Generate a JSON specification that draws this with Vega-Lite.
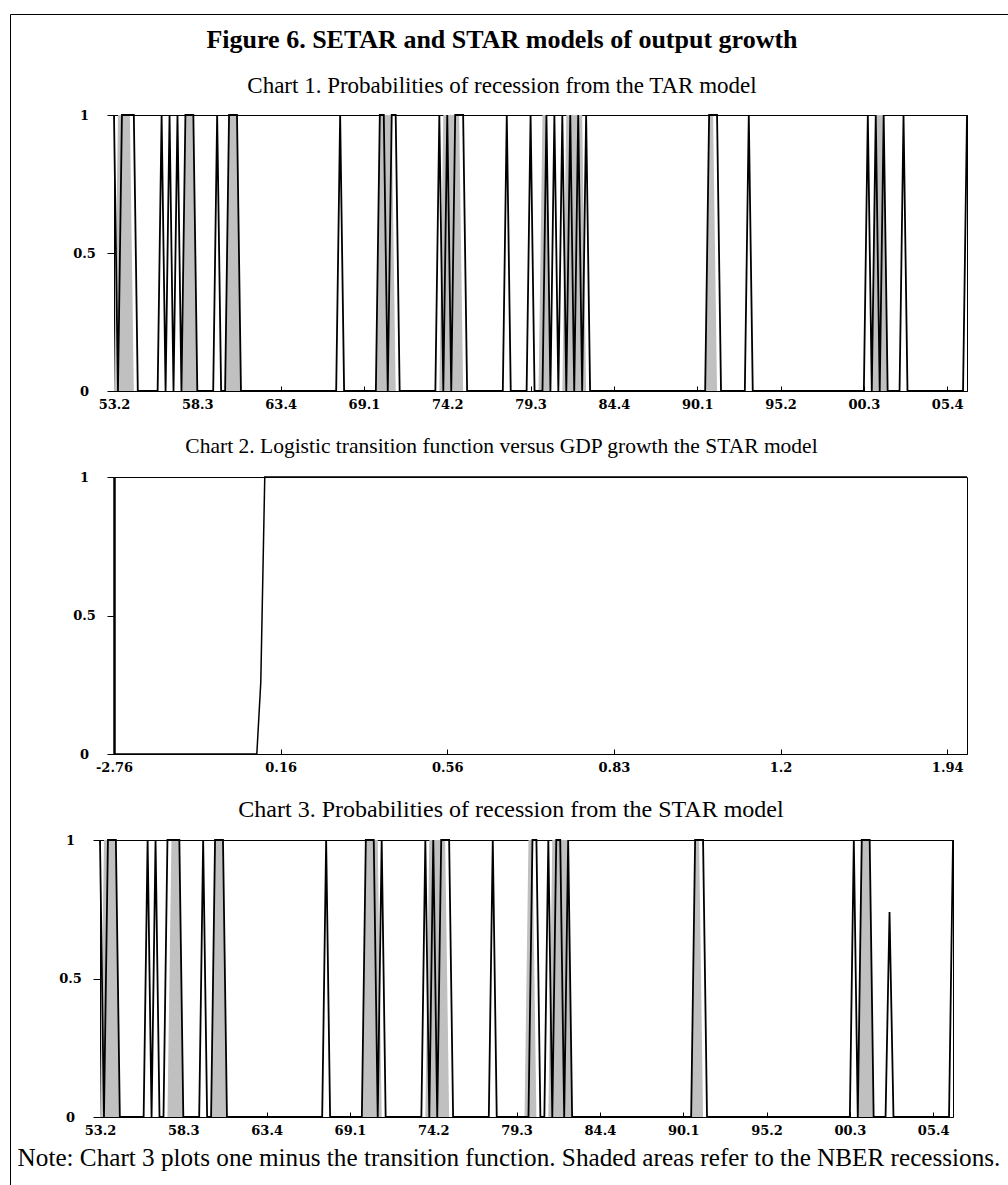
{
"$schema": "https://vega.github.io/schema/vega-lite/v6.json",
"background": "white",
"padding": {"left": 9, "top": 13, "right": 0, "bottom": 0},
"autosize": {"type": "pad"},
"config": {
  "view": {"stroke": "black", "strokeWidth": 1},
  "font": "Liberation Serif",
  "axis": {"grid": false, "domainColor": "black", "tickColor": "black", "labelColor": "black", "labelFont": "DejaVu Serif", "labelFontWeight": "bold", "labelFontSize": 13, "titleColor": "black"},
  "title": {"color": "black", "font": "Liberation Serif", "fontWeight": "normal", "fontSize": 21, "subtitleColor": "black"}
},
"datasets": {
"quarters": [
{"t":0,"tar":1,"star":1,"nber":0},{"t":1,"tar":0,"star":0,"nber":1},{"t":2,"tar":1,"star":1,"nber":1},{"t":3,"tar":1,"star":1,"nber":1},{"t":4,"tar":1,"star":1,"nber":1},{"t":5,"tar":1,"star":0,"nber":0},{"t":6,"tar":0,"star":0,"nber":0},{"t":7,"tar":0,"star":0,"nber":0},{"t":8,"tar":0,"star":0,"nber":0},{"t":9,"tar":0,"star":0,"nber":0},
{"t":10,"tar":0,"star":0,"nber":0},{"t":11,"tar":0,"star":0,"nber":0},{"t":12,"tar":1,"star":1,"nber":0},{"t":13,"tar":0,"star":0,"nber":0},{"t":14,"tar":1,"star":1,"nber":0},{"t":15,"tar":0,"star":0,"nber":0},{"t":16,"tar":1,"star":0,"nber":0},{"t":17,"tar":0,"star":1,"nber":0},{"t":18,"tar":1,"star":1,"nber":1},{"t":19,"tar":1,"star":1,"nber":1},
{"t":20,"tar":1,"star":1,"nber":1},{"t":21,"tar":0,"star":0,"nber":0},{"t":22,"tar":0,"star":0,"nber":0},{"t":23,"tar":0,"star":0,"nber":0},{"t":24,"tar":0,"star":0,"nber":0},{"t":25,"tar":0,"star":0,"nber":0},{"t":26,"tar":1,"star":1,"nber":0},{"t":27,"tar":0,"star":0,"nber":0},{"t":28,"tar":0,"star":0,"nber":0},{"t":29,"tar":1,"star":1,"nber":1},
{"t":30,"tar":1,"star":1,"nber":1},{"t":31,"tar":1,"star":1,"nber":1},{"t":32,"tar":0,"star":0,"nber":0},{"t":33,"tar":0,"star":0,"nber":0},{"t":34,"tar":0,"star":0,"nber":0},{"t":35,"tar":0,"star":0,"nber":0},{"t":36,"tar":0,"star":0,"nber":0},{"t":37,"tar":0,"star":0,"nber":0},{"t":38,"tar":0,"star":0,"nber":0},{"t":39,"tar":0,"star":0,"nber":0},
{"t":40,"tar":0,"star":0,"nber":0},{"t":41,"tar":0,"star":0,"nber":0},{"t":42,"tar":0,"star":0,"nber":0},{"t":43,"tar":0,"star":0,"nber":0},{"t":44,"tar":0,"star":0,"nber":0},{"t":45,"tar":0,"star":0,"nber":0},{"t":46,"tar":0,"star":0,"nber":0},{"t":47,"tar":0,"star":0,"nber":0},{"t":48,"tar":0,"star":0,"nber":0},{"t":49,"tar":0,"star":0,"nber":0},
{"t":50,"tar":0,"star":0,"nber":0},{"t":51,"tar":0,"star":0,"nber":0},{"t":52,"tar":0,"star":0,"nber":0},{"t":53,"tar":0,"star":0,"nber":0},{"t":54,"tar":0,"star":0,"nber":0},{"t":55,"tar":0,"star":0,"nber":0},{"t":56,"tar":0,"star":0,"nber":0},{"t":57,"tar":1,"star":1,"nber":0},{"t":58,"tar":0,"star":0,"nber":0},{"t":59,"tar":0,"star":0,"nber":0},
{"t":60,"tar":0,"star":0,"nber":0},{"t":61,"tar":0,"star":0,"nber":0},{"t":62,"tar":0,"star":0,"nber":0},{"t":63,"tar":0,"star":0,"nber":0},{"t":64,"tar":0,"star":0,"nber":0},{"t":65,"tar":0,"star":0,"nber":0},{"t":66,"tar":0,"star":0,"nber":0},{"t":67,"tar":1,"star":1,"nber":1},{"t":68,"tar":1,"star":1,"nber":1},{"t":69,"tar":0,"star":1,"nber":1},
{"t":70,"tar":1,"star":0,"nber":1},{"t":71,"tar":1,"star":1,"nber":0},{"t":72,"tar":0,"star":0,"nber":0},{"t":73,"tar":0,"star":0,"nber":0},{"t":74,"tar":0,"star":0,"nber":0},{"t":75,"tar":0,"star":0,"nber":0},{"t":76,"tar":0,"star":0,"nber":0},{"t":77,"tar":0,"star":0,"nber":0},{"t":78,"tar":0,"star":0,"nber":0},{"t":79,"tar":0,"star":0,"nber":0},
{"t":80,"tar":0,"star":0,"nber":0},{"t":81,"tar":0,"star":0,"nber":0},{"t":82,"tar":1,"star":1,"nber":0},{"t":83,"tar":0,"star":0,"nber":1},{"t":84,"tar":1,"star":1,"nber":1},{"t":85,"tar":0,"star":0,"nber":1},{"t":86,"tar":1,"star":1,"nber":1},{"t":87,"tar":1,"star":1,"nber":1},{"t":88,"tar":1,"star":1,"nber":0},{"t":89,"tar":0,"star":0,"nber":0},
{"t":90,"tar":0,"star":0,"nber":0},{"t":91,"tar":0,"star":0,"nber":0},{"t":92,"tar":0,"star":0,"nber":0},{"t":93,"tar":0,"star":0,"nber":0},{"t":94,"tar":0,"star":0,"nber":0},{"t":95,"tar":0,"star":0,"nber":0},{"t":96,"tar":0,"star":0,"nber":0},{"t":97,"tar":0,"star":0,"nber":0},{"t":98,"tar":0,"star":0,"nber":0},{"t":99,"tar":1,"star":1,"nber":0},
{"t":100,"tar":0,"star":0,"nber":0},{"t":101,"tar":0,"star":0,"nber":0},{"t":102,"tar":0,"star":0,"nber":0},{"t":103,"tar":0,"star":0,"nber":0},{"t":104,"tar":0,"star":0,"nber":0},{"t":105,"tar":1,"star":0,"nber":0},{"t":106,"tar":0,"star":0,"nber":0},{"t":107,"tar":0,"star":0,"nber":0},{"t":108,"tar":0,"star":0,"nber":1},{"t":109,"tar":1,"star":1,"nber":1},
{"t":110,"tar":0,"star":1,"nber":0},{"t":111,"tar":1,"star":0,"nber":0},{"t":112,"tar":0,"star":0,"nber":0},{"t":113,"tar":1,"star":1,"nber":0},{"t":114,"tar":0,"star":0,"nber":1},{"t":115,"tar":1,"star":1,"nber":1},{"t":116,"tar":0,"star":1,"nber":1},{"t":117,"tar":1,"star":0,"nber":1},{"t":118,"tar":0,"star":1,"nber":1},{"t":119,"tar":1,"star":0,"nber":0},
{"t":120,"tar":0,"star":0,"nber":0},{"t":121,"tar":0,"star":0,"nber":0},{"t":122,"tar":0,"star":0,"nber":0},{"t":123,"tar":0,"star":0,"nber":0},{"t":124,"tar":0,"star":0,"nber":0},{"t":125,"tar":0,"star":0,"nber":0},{"t":126,"tar":0,"star":0,"nber":0},{"t":127,"tar":0,"star":0,"nber":0},{"t":128,"tar":0,"star":0,"nber":0},{"t":129,"tar":0,"star":0,"nber":0},
{"t":130,"tar":0,"star":0,"nber":0},{"t":131,"tar":0,"star":0,"nber":0},{"t":132,"tar":0,"star":0,"nber":0},{"t":133,"tar":0,"star":0,"nber":0},{"t":134,"tar":0,"star":0,"nber":0},{"t":135,"tar":0,"star":0,"nber":0},{"t":136,"tar":0,"star":0,"nber":0},{"t":137,"tar":0,"star":0,"nber":0},{"t":138,"tar":0,"star":0,"nber":0},{"t":139,"tar":0,"star":0,"nber":0},
{"t":140,"tar":0,"star":0,"nber":0},{"t":141,"tar":0,"star":0,"nber":0},{"t":142,"tar":0,"star":0,"nber":0},{"t":143,"tar":0,"star":0,"nber":0},{"t":144,"tar":0,"star":0,"nber":0},{"t":145,"tar":0,"star":0,"nber":0},{"t":146,"tar":0,"star":0,"nber":0},{"t":147,"tar":0,"star":0,"nber":0},{"t":148,"tar":0,"star":0,"nber":0},{"t":149,"tar":0,"star":0,"nber":0},
{"t":150,"tar":1,"star":1,"nber":1},{"t":151,"tar":1,"star":1,"nber":1},{"t":152,"tar":1,"star":1,"nber":0},{"t":153,"tar":0,"star":0,"nber":0},{"t":154,"tar":0,"star":0,"nber":0},{"t":155,"tar":0,"star":0,"nber":0},{"t":156,"tar":0,"star":0,"nber":0},{"t":157,"tar":0,"star":0,"nber":0},{"t":158,"tar":0,"star":0,"nber":0},{"t":159,"tar":0,"star":0,"nber":0},
{"t":160,"tar":1,"star":0,"nber":0},{"t":161,"tar":0,"star":0,"nber":0},{"t":162,"tar":0,"star":0,"nber":0},{"t":163,"tar":0,"star":0,"nber":0},{"t":164,"tar":0,"star":0,"nber":0},{"t":165,"tar":0,"star":0,"nber":0},{"t":166,"tar":0,"star":0,"nber":0},{"t":167,"tar":0,"star":0,"nber":0},{"t":168,"tar":0,"star":0,"nber":0},{"t":169,"tar":0,"star":0,"nber":0},
{"t":170,"tar":0,"star":0,"nber":0},{"t":171,"tar":0,"star":0,"nber":0},{"t":172,"tar":0,"star":0,"nber":0},{"t":173,"tar":0,"star":0,"nber":0},{"t":174,"tar":0,"star":0,"nber":0},{"t":175,"tar":0,"star":0,"nber":0},{"t":176,"tar":0,"star":0,"nber":0},{"t":177,"tar":0,"star":0,"nber":0},{"t":178,"tar":0,"star":0,"nber":0},{"t":179,"tar":0,"star":0,"nber":0},
{"t":180,"tar":0,"star":0,"nber":0},{"t":181,"tar":0,"star":0,"nber":0},{"t":182,"tar":0,"star":0,"nber":0},{"t":183,"tar":0,"star":0,"nber":0},{"t":184,"tar":0,"star":0,"nber":0},{"t":185,"tar":0,"star":0,"nber":0},{"t":186,"tar":0,"star":0,"nber":0},{"t":187,"tar":0,"star":0,"nber":0},{"t":188,"tar":0,"star":0,"nber":0},{"t":189,"tar":0,"star":0,"nber":0},
{"t":190,"tar":1,"star":1,"nber":0},{"t":191,"tar":0,"star":0,"nber":0},{"t":192,"tar":1,"star":1,"nber":1},{"t":193,"tar":0,"star":1,"nber":1},{"t":194,"tar":1,"star":1,"nber":1},{"t":195,"tar":0,"star":0,"nber":0},{"t":196,"tar":0,"star":0,"nber":0},{"t":197,"tar":0,"star":0,"nber":0},{"t":198,"tar":0,"star":0,"nber":0},{"t":199,"tar":1,"star":0.74,"nber":0},
{"t":200,"tar":0,"star":0,"nber":0},{"t":201,"tar":0,"star":0,"nber":0},{"t":202,"tar":0,"star":0,"nber":0},{"t":203,"tar":0,"star":0,"nber":0},{"t":204,"tar":0,"star":0,"nber":0},{"t":205,"tar":0,"star":0,"nber":0},{"t":206,"tar":0,"star":0,"nber":0},{"t":207,"tar":0,"star":0,"nber":0},{"t":208,"tar":0,"star":0,"nber":0},{"t":209,"tar":0,"star":0,"nber":0},
{"t":210,"tar":0,"star":0,"nber":0},{"t":211,"tar":0,"star":0,"nber":0},{"t":212,"tar":0,"star":0,"nber":0},{"t":213,"tar":0,"star":0,"nber":0},{"t":214,"tar":0,"star":0,"nber":0},{"t":215,"tar":1,"star":1,"nber":0}
],
"logistic": [
{"i":0,"g":0},{"i":1,"g":0},{"i":2,"g":0},{"i":3,"g":0},{"i":4,"g":0},{"i":5,"g":0},{"i":6,"g":0},{"i":7,"g":0},{"i":8,"g":0},{"i":9,"g":0},
{"i":10,"g":0},{"i":11,"g":0},{"i":12,"g":0},{"i":13,"g":0},{"i":14,"g":0},{"i":15,"g":0},{"i":16,"g":0},{"i":17,"g":0},{"i":18,"g":0},{"i":19,"g":0},
{"i":20,"g":0},{"i":21,"g":0},{"i":22,"g":0},{"i":23,"g":0},{"i":24,"g":0},{"i":25,"g":0},{"i":26,"g":0},{"i":27,"g":0},{"i":28,"g":0},{"i":29,"g":0},
{"i":30,"g":0},{"i":31,"g":0},{"i":32,"g":0},{"i":33,"g":0},{"i":34,"g":0},{"i":35,"g":0},{"i":36,"g":0},{"i":37,"g":0.26},{"i":38,"g":1},{"i":39,"g":1},
{"i":40,"g":1},{"i":41,"g":1},{"i":42,"g":1},{"i":43,"g":1},{"i":44,"g":1},{"i":45,"g":1},{"i":46,"g":1},{"i":47,"g":1},{"i":48,"g":1},{"i":49,"g":1},
{"i":50,"g":1},{"i":51,"g":1},{"i":52,"g":1},{"i":53,"g":1},{"i":54,"g":1},{"i":55,"g":1},{"i":56,"g":1},{"i":57,"g":1},{"i":58,"g":1},{"i":59,"g":1},
{"i":60,"g":1},{"i":61,"g":1},{"i":62,"g":1},{"i":63,"g":1},{"i":64,"g":1},{"i":65,"g":1},{"i":66,"g":1},{"i":67,"g":1},{"i":68,"g":1},{"i":69,"g":1},
{"i":70,"g":1},{"i":71,"g":1},{"i":72,"g":1},{"i":73,"g":1},{"i":74,"g":1},{"i":75,"g":1},{"i":76,"g":1},{"i":77,"g":1},{"i":78,"g":1},{"i":79,"g":1},
{"i":80,"g":1},{"i":81,"g":1},{"i":82,"g":1},{"i":83,"g":1},{"i":84,"g":1},{"i":85,"g":1},{"i":86,"g":1},{"i":87,"g":1},{"i":88,"g":1},{"i":89,"g":1},
{"i":90,"g":1},{"i":91,"g":1},{"i":92,"g":1},{"i":93,"g":1},{"i":94,"g":1},{"i":95,"g":1},{"i":96,"g":1},{"i":97,"g":1},{"i":98,"g":1},{"i":99,"g":1},
{"i":100,"g":1},{"i":101,"g":1},{"i":102,"g":1},{"i":103,"g":1},{"i":104,"g":1},{"i":105,"g":1},{"i":106,"g":1},{"i":107,"g":1},{"i":108,"g":1},{"i":109,"g":1},
{"i":110,"g":1},{"i":111,"g":1},{"i":112,"g":1},{"i":113,"g":1},{"i":114,"g":1},{"i":115,"g":1},{"i":116,"g":1},{"i":117,"g":1},{"i":118,"g":1},{"i":119,"g":1},
{"i":120,"g":1},{"i":121,"g":1},{"i":122,"g":1},{"i":123,"g":1},{"i":124,"g":1},{"i":125,"g":1},{"i":126,"g":1},{"i":127,"g":1},{"i":128,"g":1},{"i":129,"g":1},
{"i":130,"g":1},{"i":131,"g":1},{"i":132,"g":1},{"i":133,"g":1},{"i":134,"g":1},{"i":135,"g":1},{"i":136,"g":1},{"i":137,"g":1},{"i":138,"g":1},{"i":139,"g":1},
{"i":140,"g":1},{"i":141,"g":1},{"i":142,"g":1},{"i":143,"g":1},{"i":144,"g":1},{"i":145,"g":1},{"i":146,"g":1},{"i":147,"g":1},{"i":148,"g":1},{"i":149,"g":1},
{"i":150,"g":1},{"i":151,"g":1},{"i":152,"g":1},{"i":153,"g":1},{"i":154,"g":1},{"i":155,"g":1},{"i":156,"g":1},{"i":157,"g":1},{"i":158,"g":1},{"i":159,"g":1},
{"i":160,"g":1},{"i":161,"g":1},{"i":162,"g":1},{"i":163,"g":1},{"i":164,"g":1},{"i":165,"g":1},{"i":166,"g":1},{"i":167,"g":1},{"i":168,"g":1},{"i":169,"g":1},
{"i":170,"g":1},{"i":171,"g":1},{"i":172,"g":1},{"i":173,"g":1},{"i":174,"g":1},{"i":175,"g":1},{"i":176,"g":1},{"i":177,"g":1},{"i":178,"g":1},{"i":179,"g":1},
{"i":180,"g":1},{"i":181,"g":1},{"i":182,"g":1},{"i":183,"g":1},{"i":184,"g":1},{"i":185,"g":1},{"i":186,"g":1},{"i":187,"g":1},{"i":188,"g":1},{"i":189,"g":1},
{"i":190,"g":1},{"i":191,"g":1},{"i":192,"g":1},{"i":193,"g":1},{"i":194,"g":1},{"i":195,"g":1},{"i":196,"g":1},{"i":197,"g":1},{"i":198,"g":1},{"i":199,"g":1},
{"i":200,"g":1},{"i":201,"g":1},{"i":202,"g":1},{"i":203,"g":1},{"i":204,"g":1},{"i":205,"g":1},{"i":206,"g":1},{"i":207,"g":1},{"i":208,"g":1},{"i":209,"g":1},
{"i":210,"g":1},{"i":211,"g":1},{"i":212,"g":1},{"i":213,"g":1},{"i":214,"g":1},{"i":215,"g":1}
]
},
"spacing": 23,
"vconcat": [
  {"width": 853, "height": 276,
   "title": {"text": "Figure 6. SETAR and STAR models of output growth", "subtitle": "Chart 1. Probabilities of recession from the TAR model", "fontSize": 26, "fontWeight": "bold", "subtitleFontSize": 23, "subtitleFont": "Liberation Serif", "subtitleFontWeight": "normal", "subtitlePadding": 22, "offset": 11, "anchor": "middle", "frame": "group", "dx": -38.5},
   "data": {"name": "quarters"},
   "layer": [
     {"mark": {"type": "point", "opacity": 0},
      "encoding": {
        "x": {"field": "t", "type": "quantitative"},
        "y": {"field": "nber", "type": "quantitative"},
        "color": {"field": "nber", "type": "quantitative", "scale": {"range": ["white", "white"]},
                  "legend": {"orient": "none", "legendX": -104, "legendY": -101, "direction": "vertical", "gradientLength": 1182, "gradientThickness": 1006, "gradientOpacity": 0, "gradientStrokeWidth": 0, "labelExpr": "''", "labelOpacity": 0, "title": null, "padding": 0, "strokeColor": "black"}}}},
     {"mark": {"type": "area", "color": "#c0c0c0", "interpolate": "linear"},
      "encoding": {
        "x": {"field": "t", "type": "quantitative", "scale": {"domain": [0, 215], "nice": false, "zero": false},
              "axis": {"title": null, "values": [0,21,42,63,84,105,126,147,168,189,210], "labelExpr": "['53.2','58.3','63.4','69.1','74.2','79.3','84.4','90.1','95.2','00.3','05.4'][round(datum.value/21)]", "tickSize": -5, "labelPadding": 12, "labelFlush": false}},
        "y": {"field": "nber", "type": "quantitative", "scale": {"domain": [0, 1], "nice": false},
              "axis": {"title": null, "values": [0, 0.5, 1], "format": "~g", "tickSize": 7, "labelPadding": 23, "labelAlign": "center"}}}},
     {"mark": {"type": "line", "color": "black", "strokeWidth": 1.8},
      "encoding": {"x": {"field": "t", "type": "quantitative"}, "y": {"field": "tar", "type": "quantitative"}}}
   ]},
  {"width": 853, "height": 277,
   "title": {"text": "Chart 2. Logistic transition function versus GDP growth the STAR model", "fontSize": 21.5, "offset": 14, "anchor": "middle", "frame": "group", "dx": -39},
   "data": {"name": "logistic"},
   "mark": {"type": "line", "color": "black", "strokeWidth": 1.5},
   "encoding": {
     "x": {"field": "i", "type": "quantitative", "scale": {"domain": [0, 215], "nice": false, "zero": false},
           "axis": {"title": null, "values": [0,42,84,126,168,210], "labelExpr": "['-2.76','0.16','0.56','0.83','1.2','1.94'][round(datum.value/42)]", "tickSize": -5, "labelPadding": 12, "labelFlush": false}},
     "y": {"field": "g", "type": "quantitative", "scale": {"domain": [0, 1], "nice": false},
           "axis": {"title": null, "values": [0, 0.5, 1], "format": "~g", "tickSize": 7, "labelPadding": 23, "labelAlign": "center", "domainWidth": 2.5}}}},
  {"width": 853, "height": 277,
   "view": {"stroke": null},
   "title": {"text": "Chart 3. Probabilities of recession from the STAR model", "fontSize": 24, "offset": 12, "anchor": "middle", "frame": "group", "dx": -29.5},
   "data": {"name": "quarters"},
   "resolve": {"axis": {"x": "independent", "y": "independent"}},
   "layer": [
     {"mark": {"type": "area", "color": "#c0c0c0", "interpolate": "linear"},
      "encoding": {
        "x": {"field": "t", "type": "quantitative", "scale": {"domain": [0, 215], "range": [-14, 839], "nice": false, "zero": false},
              "axis": {"title": "Note: Chart 3 plots one minus the transition function. Shaded areas refer to the NBER recessions.", "titleFont": "Liberation Serif", "titleFontSize": 25.2, "titleFontWeight": "normal", "titleX": 394.5, "titleY": 28, "titleBaseline": "top", "titleAlign": "center",
                       "values": [0,21,42,63,84,105,126,147,168,189,210], "labelExpr": "['53.2','58.3','63.4','69.1','74.2','79.3','84.4','90.1','95.2','00.3','05.4'][round(datum.value/21)]", "tickSize": -5, "labelPadding": 12, "labelFlush": false}},
        "y": {"field": "nber", "type": "quantitative", "scale": {"domain": [0, 1], "nice": false},
              "axis": {"title": null, "values": [0, 0.5, 1], "format": "~g", "tickSize": 7, "labelPadding": 23, "labelAlign": "center", "offset": 14}}}},
     {"mark": {"type": "line", "color": "black", "strokeWidth": 1.8},
      "encoding": {
        "x": {"field": "t", "type": "quantitative", "scale": {"domain": [0, 215], "range": [-14, 839], "nice": false, "zero": false},
              "axis": {"orient": "top", "title": null, "labels": false, "ticks": false, "domain": true}},
        "y": {"field": "star", "type": "quantitative", "scale": {"domain": [0, 1], "nice": false},
              "axis": {"orient": "right", "title": null, "labels": false, "ticks": false, "domain": true, "offset": -14}}}}
   ]}
]
}
